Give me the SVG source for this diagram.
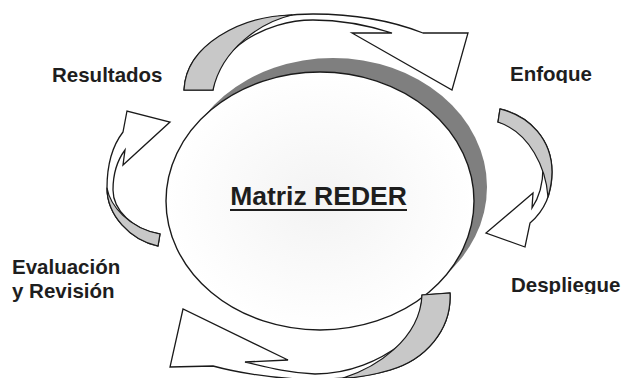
<svg xmlns="http://www.w3.org/2000/svg" width="625" height="378" viewBox="0 0 625 378">
<style>
.lbl{font-family:"Liberation Sans",Arial,sans-serif;font-weight:bold;font-size:20.5px;fill:#1e1e1e}
.body{fill:#ffffff;stroke:#1a1a1a;stroke-width:1.3;stroke-linejoin:miter}
.under{fill:#c8c8c8;stroke:#1a1a1a;stroke-width:1.2;stroke-linejoin:round}
</style>
<defs>
<radialGradient id="g" cx="0.5" cy="0.5" r="0.5">
<stop offset="0" stop-color="#f3f3f3"/>
<stop offset="1" stop-color="#ffffff"/>
</radialGradient>
<clipPath id="c1"><rect x="500" y="55" width="125" height="28"/></clipPath>
<clipPath id="c2"><rect x="495" y="265" width="130" height="29"/></clipPath>
</defs>
<rect width="625" height="378" fill="#ffffff"/>
<g id="center">
<ellipse cx="333" cy="187" rx="154" ry="129" fill="#7f7f7f"/>
<ellipse cx="320" cy="201" rx="154" ry="129" fill="url(#g)" stroke="#1a1a1a" stroke-width="1.4"/>
<text x="318.5" y="205" text-anchor="middle" font-family="'Liberation Sans',Arial,sans-serif" font-weight="bold" font-size="26.5" fill="#1e1e1e">Matriz REDER</text>
<line x1="230" y1="210" x2="407" y2="210" stroke="#1e1e1e" stroke-width="2"/>
</g>
<g id="resultados"><text class="lbl" x="52" y="82">Resultados</text></g>
<g id="enfoque" clip-path="url(#c1)"><text class="lbl" x="510" y="81">Enfoque</text></g>
<g id="despliegue" clip-path="url(#c2)"><text class="lbl" x="511" y="292">Despliegue</text></g>
<g id="evaluacion"><text class="lbl" x="12" y="274">Evaluación</text><text class="lbl" x="12" y="298">y Revisión</text></g>
<g id="connectors">
<g id="arrow-top">
<path class="body" d="M184,90 C186,40 250,14 313,14 C360,14 395,22 423,33 L468,33 L452,90 L352,33 L392,33 C370,26 340,20 313,20 C265,20 215,50 213,90 Z"/>
<path class="under" d="M184,90 C186,45 240,16 292,15 C262,22 222,48 213,90 Z"/>
</g>
<g id="arrow-right">
<path class="body" d="M500,109 C530,116 552,140 552,172 C552,195 543,212 530,223 L525,247 L486,233 L533,193 L532,208 C540,196 543,182 543,168 C543,145 524,126 498,122 Z"/>
<path class="under" d="M500,109 C530,116 552,140 552,172 C552,182 550,190 548,197 C546,168 530,133 498,122 Z"/>
</g>
<g id="arrow-bottom">
<path class="body" d="M450,293 C452,330 425,360 390,370 C365,377 335,380 300,379 C270,378 235,372 213,366 L170,367 L183,309 L288,360 L245,362 C270,368 290,373 315,374 C350,374 380,360 400,345 C415,330 422,312 422,295 Z"/>
<path class="under" d="M422,295 L450,293 C452,330 425,360 390,370 C370,376 355,378 343,378 C375,368 420,340 422,295 Z"/>
</g>
<g id="arrow-left">
<path class="body" d="M158,246 C130,240 107,215 107,188 C107,165 113,145 123,132 L127,111 L170,122 L123,165 L125,150 C116,162 113,175 113,190 C113,210 133,230 160,234 Z"/>
<path class="under" d="M158,246 C130,240 107,215 107,188 C110,205 128,228 160,234 Z"/>
</g>
</g>
</svg>
